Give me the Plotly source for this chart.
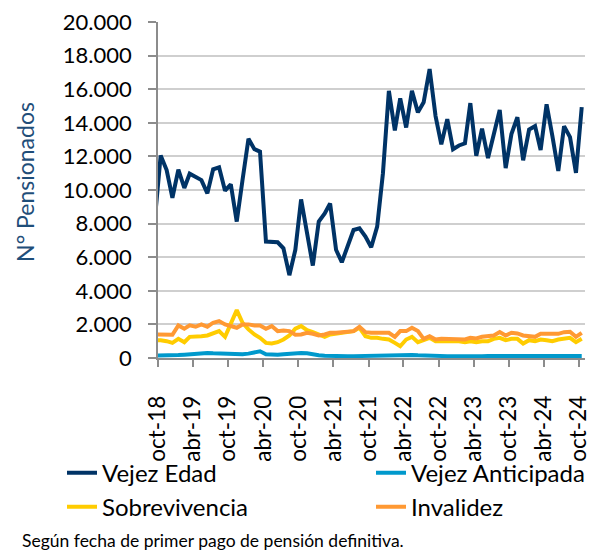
import plotly.graph_objects as go
import pandas as pd

# Monthly dates (mid-month), sep-18 .. oct-24 (sep-18 lies just left of the axis start)
months = list(pd.date_range("2018-09-01", "2024-10-01", freq="MS") + pd.Timedelta(days=14))

vejez_edad = [8300,
    12060, 11190, 9540, 11210, 10120, 10970, 10790, 10590, 9800, 11230, 11350, 9960,
    10340, 8120, 10590, 13050, 12430, 12280, 6930, 6930, 6890, 6530, 4930, 6440,
    9440, 7430, 5500, 8120, 8610, 9200, 6440, 5700, 6630, 7620, 7720, 7230,
    6590, 7820, 11000, 15900, 13550, 15450, 13720, 15900, 14620, 15220, 17200, 14400,
    12720, 14220, 12430, 12650, 12780, 15170, 12040, 13650, 11900, 13360, 14760, 11300,
    13330, 14330, 11770, 13600, 13800, 12380, 15100, 13220, 11130, 13800, 13150, 11020,
    14930]

vejez_anticipada = [140,
    140, 150, 160, 180, 200, 220, 250, 300, 300, 280, 260, 240,
    230, 220, 230, 260, 350, 400, 220, 200, 200, 230, 260, 300,
    300, 280, 200, 160, 140, 120, 100, 100, 100, 110, 120, 140,
    150, 160, 160, 170, 180, 200, 200, 180, 160, 140, 140, 130,
    120, 110, 110, 100, 100, 100, 110, 110, 120, 120, 130, 130,
    120, 120, 130, 140, 140, 130, 130, 120, 120, 110, 110, 120,
    120]

sobrevivencia = [1060,
    1060, 1000, 900, 1140, 940, 1260, 1260, 1300, 1340, 1500, 1600, 1260,
    2100, 2850, 2100, 1700, 1400, 1200, 900, 860, 940, 1100, 1340, 1750,
    1900, 1660, 1540, 1400, 1260, 1400, 1460, 1500, 1540, 1600, 1800, 1300,
    1200, 1200, 1140, 1100, 900, 700, 1100, 1260, 940, 1100, 1200, 1000,
    1000, 1000, 1000, 1000, 940, 1000, 940, 1000, 1000, 1140, 1200, 1060,
    1140, 1140, 860, 1060, 1000, 1100, 1060, 1000, 1100, 1140, 1200, 940,
    1140]

invalidez = [1400,
    1400, 1400, 1380, 1940, 1740, 1940, 1860, 2000, 1860, 2100, 2200, 2000,
    1900, 1800, 2000, 2000, 1940, 1940, 1740, 1900, 1600, 1640, 1600, 1380,
    1400, 1500, 1440, 1340, 1400, 1500, 1500, 1540, 1560, 1600, 1860, 1540,
    1500, 1500, 1500, 1500, 1260, 1600, 1600, 1800, 1600, 1140, 1300, 1100,
    1140, 1140, 1140, 1140, 1100, 1200, 1160, 1260, 1300, 1340, 1540, 1340,
    1500, 1460, 1340, 1300, 1260, 1440, 1440, 1400, 1440, 1540, 1560, 1260,
    1500]

series_names = ["Vejez Edad", "Vejez Anticipada", "Sobrevivencia", "Invalidez"]
series_values = [vejez_edad, vejez_anticipada, sobrevivencia, invalidez]
series_colors = ["#003366", "#0099CC", "#FFCC00", "#FF9933"]
series_legend = ["legend", "legend2", "legend", "legend2"]

tick_vals = ["2018-10-01", "2019-04-01", "2019-10-01", "2020-04-01", "2020-10-01",
             "2021-04-01", "2021-10-01", "2022-04-01", "2022-10-01", "2023-04-01",
             "2023-10-01", "2024-04-01", "2024-10-01"]
tick_text = ["oct-18", "abr-19", "oct-19", "abr-20", "oct-20", "abr-21", "oct-21",
             "abr-22", "oct-22", "abr-23", "oct-23", "abr-24", "oct-24"]

y_ticks = [0, 2000, 4000, 6000, 8000, 10000, 12000, 14000, 16000, 18000, 20000]

FONT = "Lato"
W, H = 589, 542  # page body adds an 8 px offset in the 597x550 window

fig = go.Figure()
for name, vals, col, lg in zip(series_names, series_values, series_colors, series_legend):
    fig.add_trace(go.Scatter(x=months, y=vals, name=name, mode="lines",
                             legend=lg, legendgroup=name,
                             line=dict(color=col, width=4)))

legend_common = dict(orientation="v", xref="container", yref="container",
                     xanchor="left", yanchor="top", y=0.1835,
                     tracegroupgap=0,
                     font=dict(family=FONT, size=24, color="#000000"),
                     bgcolor="rgba(0,0,0,0)")

fig.update_layout(
    width=W, height=H,
    margin=dict(l=150, r=12, t=14, b=192, autoexpand=False),
    paper_bgcolor="white", plot_bgcolor="white",
    separators=",.",
    font=dict(family=FONT, size=22, color="#000000"),
    showlegend=True,
    legend=dict(x=54 / W, **legend_common),
    legend2=dict(x=363 / W, **legend_common),
    annotations=[
        dict(text="Según fecha de primer pago de pensión definitiva.",
             xref="paper", yref="paper", x=-0.3232, y=-0.5428,
             xanchor="left", yanchor="middle", showarrow=False,
             font=dict(family=FONT, size=17.5, color="#000000")),
        dict(text="N° Pensionados", textangle=-90,
             xref="paper", yref="paper", x=-0.3115, y=0.524,
             xanchor="center", yanchor="middle", showarrow=False,
             font=dict(family=FONT, size=23, color="#1F4E79")),
    ],
)

fig.update_xaxes(
    type="date", range=["2018-10-01", "2024-11-01"], automargin=False,
    tickvals=tick_vals, ticktext=tick_text, tickangle=-90,
    ticks="outside", ticklen=7, tickcolor="#8C8C8C", tickwidth=1.5,
    showline=True, linecolor="#8C8C8C", linewidth=1.5,
    showgrid=False, zeroline=False,
    tickfont=dict(family=FONT, size=22.5, color="#000000"),
    ticklabelstandoff=20, ticklabeloverflow="allow",
)
fig.update_yaxes(
    range=[0, 20000], tickvals=y_ticks, tickformat=",d", automargin=False,
    ticks="outside", ticklen=8, tickcolor="#8C8C8C", tickwidth=1.5,
    showline=True, linecolor="#8C8C8C", linewidth=1.5,
    showgrid=True, gridcolor="#CFCFCF", gridwidth=2,
    zeroline=False,
    tickfont=dict(family=FONT, size=22, color="#000000"),
    ticklabelstandoff=12, ticklabeloverflow="allow",
)

fig.write_html("out.html")
